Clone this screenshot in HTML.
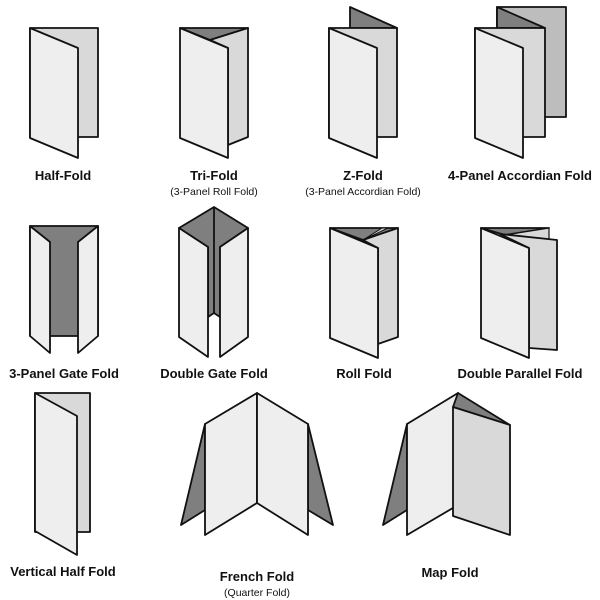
<!DOCTYPE html>
<html><head><meta charset="utf-8"><style>
html,body{margin:0;padding:0;background:#fff}
svg{display:block}
text{font-family:"Liberation Sans",sans-serif;text-anchor:middle;fill:#111}
.t{font-size:13px;font-weight:bold}
.s{font-size:10.5px}
polygon,rect,line,polyline{stroke:#111;stroke-width:1.8;stroke-linejoin:round}
.f{fill:#eeeeee}.m{fill:#d9d9d9}.g{fill:#bdbdbd}.d{fill:#7f7f7f}
</style></head><body>
<svg width="600" height="600" viewBox="0 0 600 600">
<!-- Half-Fold -->
<rect class="m" x="30" y="28" width="68" height="109"/>
<polygon class="f" points="30,28 78,48 78,158 30,138"/>
<text class="t" x="63" y="180">Half-Fold</text>
<!-- Tri-Fold -->
<polygon class="d" points="180,28 248,28 210,40"/>
<polygon class="m" points="210,40 248,28 248,137 228,145 228,48"/>
<polygon class="f" points="180,28 228,48 228,158 180,138"/>
<text class="t" x="214" y="180">Tri-Fold</text>
<text class="s" x="214" y="195">(3-Panel Roll Fold)</text>
<!-- Z-Fold -->
<polygon class="d" points="350,7 397,28 350,28"/>
<rect class="m" x="329" y="28" width="68" height="109"/>
<polygon class="f" points="329,28 377,48 377,158 329,138"/>
<text class="t" x="363" y="180">Z-Fold</text>
<text class="s" x="363" y="195">(3-Panel Accordian Fold)</text>
<!-- 4-Panel -->
<rect class="g" x="497" y="7" width="69" height="110"/>
<polygon class="d" points="497,7 545,28 497,28"/>
<rect class="m" x="475" y="28" width="70" height="109"/>
<polygon class="f" points="475,28 523,48 523,158 475,138"/>
<text class="t" x="520" y="180">4-Panel Accordian Fold</text>
<!-- 3-Panel Gate -->
<rect class="d" x="30" y="226" width="68" height="110"/>
<polygon class="f" points="30,226 50,242 50,353 30,336"/>
<polygon class="f" points="98,226 78,242 78,353 98,336"/>
<text class="t" x="64" y="378">3-Panel Gate Fold</text>
<!-- Double Gate -->
<polygon class="d" points="179,228 214,207 248,228 220,247 220,317 214,313 208,317 208,247"/>
<line x1="214" y1="207" x2="214" y2="313"/>
<polygon class="f" points="179,228 208,247 208,357 179,337"/>
<polygon class="f" points="248,228 220,247 220,357 248,337"/>
<text class="t" x="214" y="378">Double Gate Fold</text>
<!-- Roll Fold -->
<polygon class="d" points="330,228 398,228 363,240"/>
<polygon class="m" points="363,240 382,228 388,228" style="stroke-width:1"/>
<polygon class="m" points="363,240 398,228 398,337 378,344 378,248"/>
<polygon class="f" points="330,228 378,248 378,358 330,338"/>
<text class="t" x="364" y="378">Roll Fold</text>
<!-- Double Parallel -->
<polygon class="d" points="481,228 549,228 505,235"/>
<polygon class="m" points="505,235 549,228 549,240" style="stroke-width:1.2"/>
<polygon class="m" points="500,234 557,240 557,350 529,348 529,248"/>
<polygon class="f" points="481,228 529,248 529,358 481,338"/>
<text class="t" x="520" y="378">Double Parallel Fold</text>
<!-- Vertical Half -->
<rect class="m" x="35" y="393" width="55" height="139"/>
<polygon class="f" points="35,393 77,416 77,555 35,531"/>
<text class="t" x="63" y="576">Vertical Half Fold</text>
<!-- French -->
<polygon class="d" points="205,424 181,525 205,510"/>
<polygon class="d" points="308,424 333,525 308,510"/>
<polygon class="f" points="205,424 257,393 257,503 205,535"/>
<polygon class="f" points="257,393 308,424 308,535 257,503"/>
<text class="t" x="257" y="581">French Fold</text>
<text class="s" x="257" y="596">(Quarter Fold)</text>
<!-- Map -->
<polygon class="d" points="407,424 383,525 407,510"/>
<polygon class="f" points="407,424 458,393 458,505 407,535"/>
<polygon class="d" points="458,393 510,425 453,407"/>
<polygon class="m" points="453,407 510,425 510,535 453,516"/>
<text class="t" x="450" y="577">Map Fold</text>
</svg>
</body></html>
